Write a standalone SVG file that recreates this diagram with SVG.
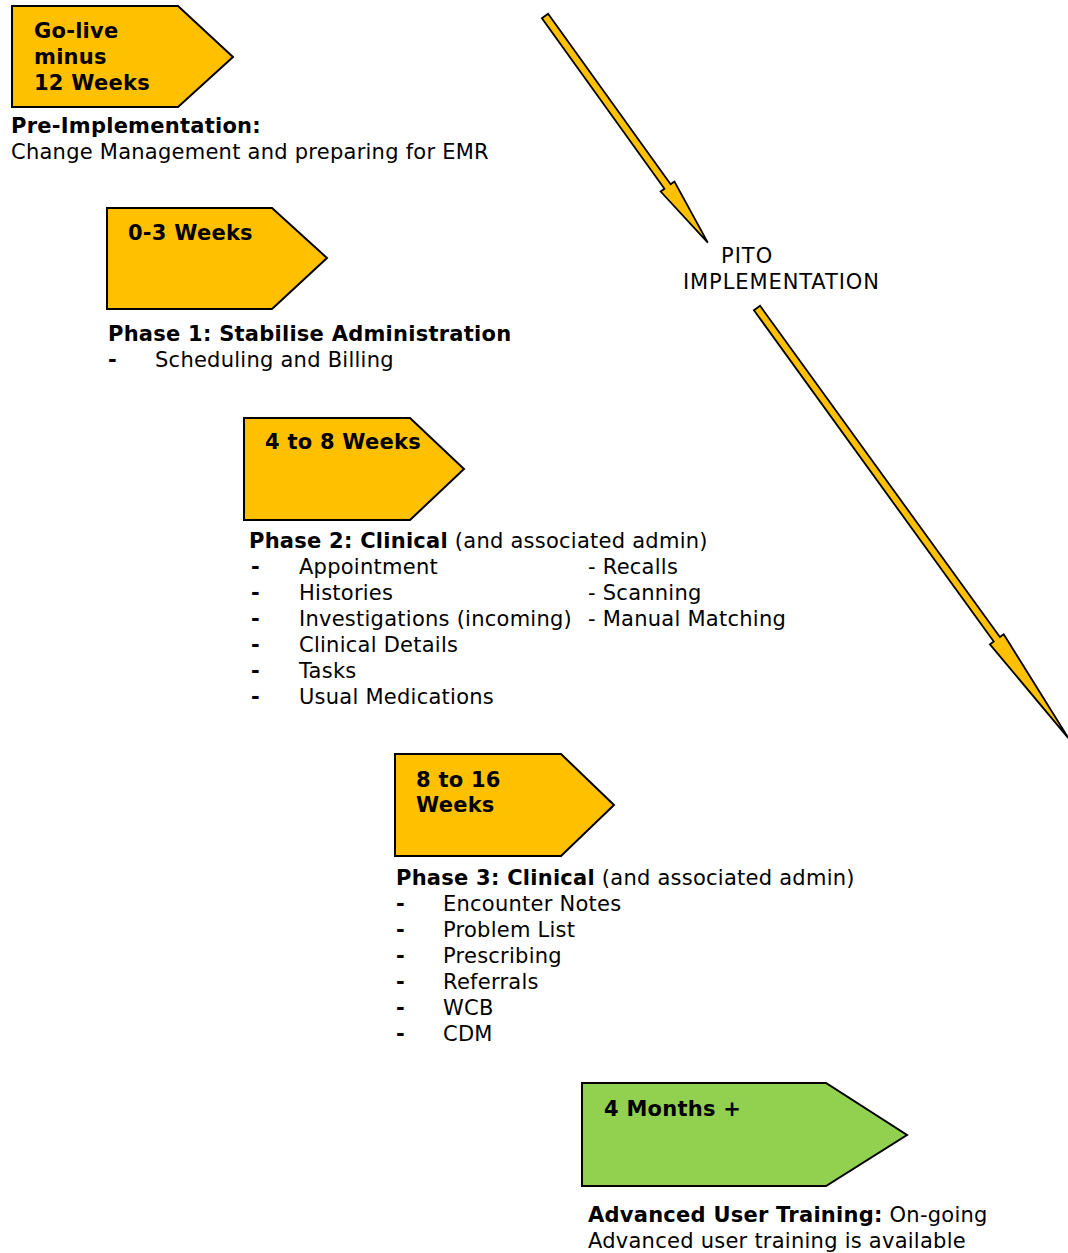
<svg xmlns="http://www.w3.org/2000/svg" width="1068" height="1253" viewBox="0 0 1068 1253">
<style>
text{font-family:"DejaVu Sans",Verdana,sans-serif;font-size:21px;letter-spacing:0.25px;fill:#000}
.b{font-weight:bold}
.o{fill:#FFC000;stroke:#000;stroke-width:2}
.g{fill:#92D050;stroke:#000;stroke-width:2}
.ar{fill:#FFC000;stroke:#000;stroke-width:1.8;stroke-linejoin:miter}
</style>
<rect width="1068" height="1253" fill="#fff"/>
<g id="connectors">
<polygon class="ar" transform="translate(545,16) rotate(54.3)" points="0,-3.8 210,-3.8 210,-8.5 279,0 210,8.5 210,3.8 0,3.8"/>
<polygon class="ar" transform="translate(757,308) rotate(54.1)" points="0,-3.8 409,-3.8 409,-8.5 531,0 409,8.5 409,3.8 0,3.8"/>
</g>
<g id="pito">
<text x="721" y="263" style="letter-spacing:1px">PITO</text>
<text x="683" y="289" style="letter-spacing:0.9px">IMPLEMENTATION</text>
</g>
<g id="node-golive">
<polygon class="o" points="12,6 178,6 233,57 178,107 12,107"/>
<text class="b" x="34" y="38">Go-live</text>
<text class="b" x="34" y="64">minus</text>
<text class="b" x="34" y="90">12 Weeks</text>
<text class="b" x="11" y="133">Pre-Implementation:</text>
<text x="11" y="159">Change Management and preparing for EMR</text>
</g>
<g id="node-phase1">
<polygon class="o" points="107,208 272,208 327,258 272,309 107,309"/>
<text class="b" x="128" y="240">0-3 Weeks</text>
<text class="b" x="108" y="341">Phase 1: Stabilise Administration</text>
<text class="b" x="108" y="367">-</text>
<text x="155" y="367">Scheduling and Billing</text>
</g>
<g id="node-phase2">
<polygon class="o" points="244,418 410,418 464,469 410,520 244,520"/>
<text class="b" x="265" y="449">4 to 8 Weeks</text>
<text x="249" y="548"><tspan class="b">Phase 2: Clinical</tspan> (and associated admin)</text>
<text class="b" x="251" y="574">-</text><text x="299" y="574">Appointment</text>
<text class="b" x="251" y="600">-</text><text x="299" y="600">Histories</text>
<text class="b" x="251" y="626">-</text><text x="299" y="626">Investigations (incoming)</text>
<text class="b" x="251" y="652">-</text><text x="299" y="652">Clinical Details</text>
<text class="b" x="251" y="678">-</text><text x="299" y="678">Tasks</text>
<text class="b" x="251" y="704">-</text><text x="299" y="704">Usual Medications</text>
<text x="588" y="574">- Recalls</text>
<text x="588" y="600">- Scanning</text>
<text x="588" y="626">- Manual Matching</text>
</g>
<g id="node-phase3">
<polygon class="o" points="395,754 561,754 614,805 561,856 395,856"/>
<text class="b" x="416" y="787">8 to 16</text>
<text class="b" x="416" y="812">Weeks</text>
<text x="396" y="885"><tspan class="b">Phase 3: Clinical</tspan> (and associated admin)</text>
<text class="b" x="396" y="911">-</text><text x="443" y="911">Encounter Notes</text>
<text class="b" x="396" y="937">-</text><text x="443" y="937">Problem List</text>
<text class="b" x="396" y="963">-</text><text x="443" y="963">Prescribing</text>
<text class="b" x="396" y="989">-</text><text x="443" y="989">Referrals</text>
<text class="b" x="396" y="1015">-</text><text x="443" y="1015">WCB</text>
<text class="b" x="396" y="1041">-</text><text x="443" y="1041">CDM</text>
</g>
<g id="node-advanced">
<polygon class="g" points="582,1083 826,1083 907,1135 826,1186 582,1186"/>
<text class="b" x="604" y="1116">4 Months +</text>
<text x="588" y="1222"><tspan class="b">Advanced User Training:</tspan> On-going</text>
<text x="588" y="1248">Advanced user training is available</text>
</g>
</svg>
